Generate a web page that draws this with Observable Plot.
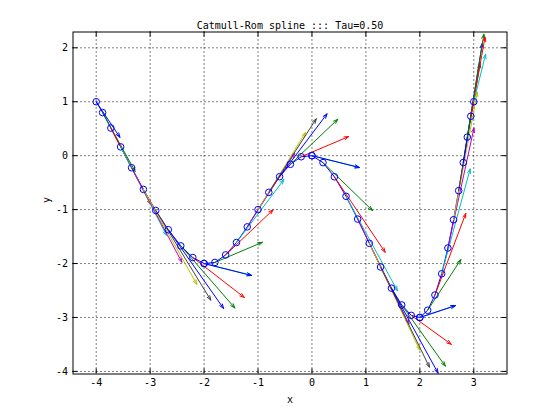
<!DOCTYPE html>
<html>
<head>
<meta charset="utf-8">
<script src="https://cdn.jsdelivr.net/npm/d3@7"></script>
<script src="https://cdn.jsdelivr.net/npm/@observablehq/plot@0.6"></script>
<style>
  body { margin: 0; background: #fff; }
  #chart { width: 560px; height: 420px; }
</style>
</head>
<body>
<div id="chart"></div>
<script>
// Catmull-Rom spline through (-4,1) (-2,-2) (0,0) (2,-3) (3,1), tension tau.
const tau = 0.5;

// Curve samples, 11 per segment (t = 0, 0.1, ... 1), four segments.
const sampleX = [
  -4, -3.881, -3.728, -3.547, -3.344, -3.125, -2.896, -2.663, -2.432, -2.209, -2,
  -2, -1.8, -1.6, -1.4, -1.2, -1, -0.8, -0.6, -0.4, -0.2, 0,
  0, 0.205, 0.416, 0.632, 0.848, 1.063, 1.272, 1.474, 1.664, 1.841, 2,
  2, 2.145, 2.28, 2.405, 2.52, 2.625, 2.72, 2.805, 2.88, 2.945, 3
];
const sampleY = [
  1, 0.799, 0.512, 0.163, -0.224, -0.625, -1.016, -1.373, -1.672, -1.889, -2,
  -2, -1.98, -1.84, -1.61, -1.32, -1, -0.68, -0.39, -0.16, -0.02, 0,
  0, -0.129, -0.392, -0.753, -1.176, -1.625, -2.064, -2.457, -2.768, -2.961, -3,
  -3, -2.866, -2.584, -2.189, -1.712, -1.188, -0.648, -0.127, 0.344, 0.731, 1
];
// Tangent (dx/dt, dy/dt) at each sample.
const tangentU = [
  1, 1.37, 1.68, 1.93, 2.12, 2.25, 2.32, 2.33, 2.28, 2.17, 2,
  2, 2, 2, 2, 2, 2, 2, 2, 2, 2, 2,
  2, 2.085, 2.14, 2.165, 2.16, 2.125, 2.06, 1.965, 1.84, 1.685, 1.5,
  1.5, 1.4, 1.3, 1.2, 1.1, 1.0, 0.9, 0.8, 0.7, 0.6, 0.5
];
const tangentV = [
  -1.5, -2.48, -3.22, -3.72, -3.98, -4.0, -3.78, -3.32, -2.62, -1.68, -0.5,
  -0.5, 0.85, 1.9, 2.65, 3.1, 3.25, 3.1, 2.65, 1.9, 0.85, -0.5,
  -0.5, -2.02, -3.18, -3.98, -4.42, -4.5, -4.22, -3.58, -2.58, -1.22, 0.5,
  0.5, 2.135, 3.44, 4.415, 5.06, 5.375, 5.36, 5.015, 4.34, 3.335, 2
];
const samplesPerSegment = 11;
const arrowScale = 0.44;

// Line colour order, restarting with each segment.
const colorOrder = ["#0000ff", "#008000", "#ff0000", "#00bfbf", "#bf00bf", "#bfbf00", "#404040"];

const xTicks = [-4, -3, -2, -1, 0, 1, 2, 3];
const yTicks = [-4, -3, -2, -1, 0, 1, 2];
const xDomain = [-4.43, 3.616];
const yDomain = [-4.048, 2.293];

const rows = sampleX.map((x, i) => ({
  x,
  y: sampleY[i],
  x2: x + arrowScale * tangentU[i],
  y2: sampleY[i] + arrowScale * tangentV[i],
  color: colorOrder[(i % samplesPerSegment) % colorOrder.length]
}));

const W = 560, H = 420;
const mL = 72.5, mR = 53.5, mT = 31.5, mB = 46.5;
const frameW = W - mL - mR, frameH = H - mT - mB;
const font = "DejaVu Sans Mono";

const chart = Plot.plot({
  width: W,
  height: H,
  marginLeft: mL,
  marginRight: mR,
  marginTop: mT,
  marginBottom: mB,
  style: { fontFamily: font, fontSize: "10px", background: "#fff", color: "#000" },
  x: { domain: xDomain, axis: null },
  y: { domain: yDomain, axis: null },
  color: { type: "identity" },
  marks: [
    // dotted grid
    Plot.ruleX(xTicks, { stroke: "#000", strokeWidth: 1, strokeDasharray: "1,3" }),
    Plot.ruleY(yTicks, { stroke: "#000", strokeWidth: 1, strokeDasharray: "1,3" }),
    // inward ticks on all four sides
    Plot.tickX(xTicks, { x: d => d, stroke: "#000", insetTop: frameH - 5 }),
    Plot.tickX(xTicks, { x: d => d, stroke: "#000", insetBottom: frameH - 5 }),
    Plot.tickY(yTicks, { y: d => d, stroke: "#000", insetRight: frameW - 5 }),
    Plot.tickY(yTicks, { y: d => d, stroke: "#000", insetLeft: frameW - 5 }),
    // spline samples joined in order
    Plot.line(rows, { x: "x", y: "y", stroke: "#0000ff", strokeWidth: 1 }),
    // tangent arrows
    Plot.arrow(rows, {
      x1: "x", y1: "y", x2: "x2", y2: "y2",
      stroke: "color", strokeWidth: 1,
      headLength: 7, headAngle: 38
    }),
    Plot.dot(rows, { x: "x", y: "y", r: 3.3, stroke: "#0000ff", fill: "none", strokeWidth: 1 }),
    Plot.frame({ stroke: "#000", strokeWidth: 1 }),
    // tick labels
    Plot.text(xTicks, { x: d => d, frameAnchor: "bottom", dy: 12, text: d => String(d), fill: "#000" }),
    Plot.text(yTicks, { y: d => d, frameAnchor: "left", dx: -5, textAnchor: "end", text: d => String(d), fill: "#000" }),
    // axis labels and title
    Plot.text(["x"], { frameAnchor: "bottom", dy: 29, fill: "#000" }),
    Plot.text(["y"], { frameAnchor: "left", dx: -26, rotate: -90, fill: "#000" }),
    Plot.text([`Catmull-Rom spline ::: Tau=${tau.toFixed(2)}`], { frameAnchor: "top", dy: -10, fill: "#000" })
  ]
});

// keep the long arrows inside the axes box
const svgNS = "http://www.w3.org/2000/svg";
const defs = document.createElementNS(svgNS, "defs");
const clip = document.createElementNS(svgNS, "clipPath");
clip.setAttribute("id", "axes-clip");
const rect = document.createElementNS(svgNS, "rect");
rect.setAttribute("x", mL);
rect.setAttribute("y", mT);
rect.setAttribute("width", frameW);
rect.setAttribute("height", frameH);
clip.appendChild(rect);
defs.appendChild(clip);
chart.insertBefore(defs, chart.firstChild);
chart.querySelectorAll('g[aria-label="arrow"]').forEach(g => g.setAttribute("clip-path", "url(#axes-clip)"));

document.getElementById("chart").appendChild(chart);
</script>
</body>
</html>
